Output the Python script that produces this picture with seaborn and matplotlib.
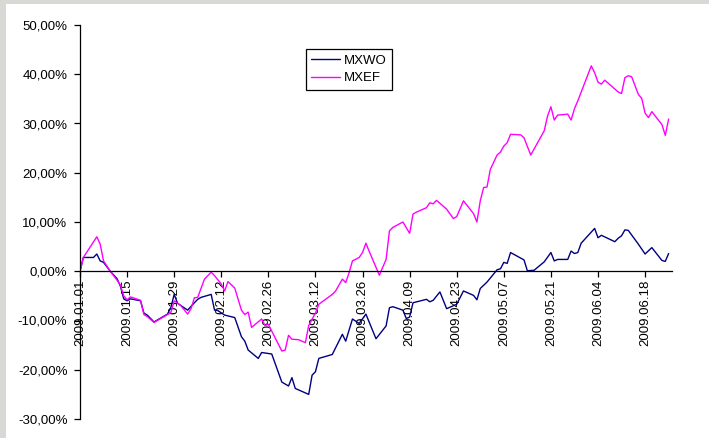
import matplotlib
matplotlib.use("Agg")
import matplotlib.pyplot as plt
from matplotlib.lines import Line2D
from matplotlib.patches import Rectangle
from matplotlib.ticker import FuncFormatter, FixedLocator, FixedFormatter
import matplotlib.dates as mdates
import pandas as pd
import seaborn as sns

# Cumulative returns since 2009-01-01, in percent
series_names = ["MXWO", "MXEF"]
series_colors = ["#000080", "#FF00FF"]

mxwo_dates = [
    "2009-01-01", "2009-01-02", "2009-01-05", "2009-01-06", "2009-01-07", "2009-01-08",
    "2009-01-10", "2009-01-12", "2009-01-13", "2009-01-14", "2009-01-15", "2009-01-16",
    "2009-01-19", "2009-01-20", "2009-01-21", "2009-01-23", "2009-01-27", "2009-01-28",
    "2009-01-29", "2009-01-30", "2009-02-02", "2009-02-04", "2009-02-05", "2009-02-06",
    "2009-02-09", "2009-02-10", "2009-02-11", "2009-02-13", "2009-02-16", "2009-02-18",
    "2009-02-19", "2009-02-20", "2009-02-23", "2009-02-24", "2009-02-27", "2009-03-02",
    "2009-03-04", "2009-03-05", "2009-03-06", "2009-03-10", "2009-03-11", "2009-03-12",
    "2009-03-13", "2009-03-17", "2009-03-20", "2009-03-21", "2009-03-23", "2009-03-25",
    "2009-03-27", "2009-03-30", "2009-04-02", "2009-04-03", "2009-04-04", "2009-04-07",
    "2009-04-08", "2009-04-09", "2009-04-10", "2009-04-14", "2009-04-15", "2009-04-16",
    "2009-04-18", "2009-04-20", "2009-04-23", "2009-04-25", "2009-04-28", "2009-04-29",
    "2009-04-30", "2009-05-02", "2009-05-05", "2009-05-06", "2009-05-07", "2009-05-08",
    "2009-05-09", "2009-05-13", "2009-05-14", "2009-05-16", "2009-05-19", "2009-05-21",
    "2009-05-22", "2009-05-23", "2009-05-26", "2009-05-27", "2009-05-28", "2009-05-29",
    "2009-05-30", "2009-06-03", "2009-06-04", "2009-06-05", "2009-06-09", "2009-06-10",
    "2009-06-11", "2009-06-12", "2009-06-13", "2009-06-16", "2009-06-18", "2009-06-20",
    "2009-06-23", "2009-06-24", "2009-06-25",
]
mxwo_values = [
    0.0, 2.8, 2.8, 3.5, 2.1, 1.8,
    0.0, -1.5, -3.0, -5.6, -6.0, -5.6,
    -6.0, -8.5, -8.9, -10.3, -8.7, -7.4,
    -4.7, -6.5, -7.9, -6.4, -5.7, -5.3,
    -4.7, -7.9, -8.0, -8.9, -9.4, -13.3,
    -14.2, -16.0, -17.7, -16.5, -16.8, -22.5,
    -23.3, -21.6, -23.8, -25.0, -21.1, -20.4,
    -17.7, -16.9, -12.8, -14.2, -9.7, -10.6,
    -8.7, -13.7, -11.1, -7.4, -7.2, -7.9,
    -9.6, -9.3, -6.4, -5.7, -6.2, -5.9,
    -4.2, -7.6, -6.7, -4.0, -4.9, -5.8,
    -3.5, -2.2, 0.3, 0.5, 1.8, 1.6,
    3.8, 2.3, 0.1, 0.2, 1.9, 3.8,
    2.1, 2.4, 2.4, 4.1, 3.6, 3.8,
    5.7, 8.7, 6.8, 7.3, 6.0, 6.7,
    7.2, 8.4, 8.3, 5.5, 3.5, 4.8,
    2.2, 2.0, 3.6,
]

mxef_dates = [
    "2009-01-01", "2009-01-02", "2009-01-06", "2009-01-07", "2009-01-08", "2009-01-10",
    "2009-01-12", "2009-01-13", "2009-01-14", "2009-01-15", "2009-01-16", "2009-01-19",
    "2009-01-20", "2009-01-21", "2009-01-23", "2009-01-28", "2009-01-29", "2009-01-31",
    "2009-02-02", "2009-02-03", "2009-02-04", "2009-02-05", "2009-02-07", "2009-02-08",
    "2009-02-09", "2009-02-10", "2009-02-12", "2009-02-13", "2009-02-14", "2009-02-16",
    "2009-02-18", "2009-02-19", "2009-02-20", "2009-02-21", "2009-02-24", "2009-02-25",
    "2009-02-26", "2009-03-02", "2009-03-03", "2009-03-04", "2009-03-05", "2009-03-07",
    "2009-03-09", "2009-03-10", "2009-03-12", "2009-03-13", "2009-03-17", "2009-03-18",
    "2009-03-20", "2009-03-21", "2009-03-22", "2009-03-23", "2009-03-25", "2009-03-26",
    "2009-03-27", "2009-03-28", "2009-03-31", "2009-04-02", "2009-04-03", "2009-04-04",
    "2009-04-07", "2009-04-09", "2009-04-10", "2009-04-11", "2009-04-14", "2009-04-15",
    "2009-04-16", "2009-04-17", "2009-04-20", "2009-04-22", "2009-04-23", "2009-04-25",
    "2009-04-28", "2009-04-29", "2009-04-30", "2009-05-01", "2009-05-02", "2009-05-03",
    "2009-05-05", "2009-05-06", "2009-05-07", "2009-05-08", "2009-05-09", "2009-05-12",
    "2009-05-13", "2009-05-15", "2009-05-19", "2009-05-20", "2009-05-21", "2009-05-22",
    "2009-05-23", "2009-05-26", "2009-05-27", "2009-05-28", "2009-05-29", "2009-06-02",
    "2009-06-03", "2009-06-04", "2009-06-05", "2009-06-06", "2009-06-10", "2009-06-11",
    "2009-06-12", "2009-06-13", "2009-06-14", "2009-06-16", "2009-06-17", "2009-06-18",
    "2009-06-19", "2009-06-20", "2009-06-23", "2009-06-24", "2009-06-25",
]
mxef_values = [
    0.0, 2.8, 7.0, 5.5, 2.1, 0.0,
    -1.8, -2.8, -5.0, -5.8, -5.2, -5.9,
    -8.8, -9.2, -10.4, -8.4, -6.0, -7.0,
    -8.7, -7.6, -5.4, -5.3, -1.6, -0.9,
    -0.2, -0.9, -2.6, -4.0, -2.1, -3.4,
    -7.9, -8.8, -8.3, -11.4, -9.7, -11.0,
    -10.8, -16.2, -16.0, -13.0, -13.8, -13.9,
    -14.5, -11.0, -8.5, -6.7, -4.7, -4.0,
    -1.6, -2.3, -0.3, 2.1, 2.8, 3.8,
    5.7, 4.0, -0.8, 2.4, 8.2, 8.9,
    10.0, 7.7, 11.6, 12.0, 12.9, 13.9,
    13.7, 14.4, 12.6, 10.7, 11.1, 14.3,
    11.7, 10.0, 14.3, 17.0, 17.1, 20.7,
    23.6, 24.2, 25.4, 26.1, 27.8, 27.7,
    27.1, 23.6, 28.5, 31.5, 33.4, 30.7,
    31.7, 31.9, 30.7, 33.0, 34.6, 41.7,
    40.3, 38.4, 38.0, 38.8, 36.4, 36.1,
    39.3, 39.7, 39.5, 35.9, 35.1, 32.1,
    31.2, 32.4, 29.8, 27.6, 30.9,
]

x_tick_labels = [
    "2009.01.01", "2009.01.15", "2009.01.29", "2009.02.12", "2009.02.26",
    "2009.03.12", "2009.03.26", "2009.04.09", "2009.04.23", "2009.05.07",
    "2009.05.21", "2009.06.04", "2009.06.18",
]
y_ticks = [-30, -20, -10, 0, 10, 20, 30, 40, 50]

# Long-form table for seaborn
frames = []
for name, dates, values in [("MXWO", mxwo_dates, mxwo_values), ("MXEF", mxef_dates, mxef_values)]:
    frames.append(pd.DataFrame({"date": pd.to_datetime(dates), "value": values, "series": name}))
df = pd.concat(frames, ignore_index=True)

sns.set_theme(style="white")
plt.rcParams["font.family"] = ["Liberation Sans", "DejaVu Sans"]

W, H = 709, 438
fig = plt.figure(figsize=(W / 100, H / 100), dpi=100)
fig.patch.set_facecolor("white")

# light grey frame on the left and top edges
frame_color = "#d8d8d4"
fig.patches.append(Rectangle((0, 0), 6 / W, 1, transform=fig.transFigure,
                             facecolor=frame_color, edgecolor="none", zorder=0))
fig.patches.append(Rectangle((0, 1 - 4 / H), 1, 4 / H, transform=fig.transFigure,
                             facecolor=frame_color, edgecolor="none", zorder=0))

ax = fig.add_axes([80 / W, 1 - 419 / H, 592 / W, 394 / H])
ax.set_facecolor("white")

palette = dict(zip(series_names, series_colors))
sns.lineplot(data=df, x="date", y="value", hue="series", hue_order=series_names,
             palette=palette, estimator=None, sort=False, linewidth=1.0,
             legend=False, ax=ax)

ax.set_xlim(pd.Timestamp("2009-01-01"), pd.Timestamp("2009-06-26"))
ax.set_ylim(-30, 50)

ax.set_yticks(y_ticks)
ax.yaxis.set_major_formatter(FuncFormatter(lambda v, _: f"{v:.2f}%".replace(".", ",")))
tick_pos = mdates.date2num(pd.to_datetime(x_tick_labels, format="%Y.%m.%d").to_pydatetime())
ax.xaxis.set_major_locator(FixedLocator(tick_pos))
ax.xaxis.set_major_formatter(FixedFormatter(x_tick_labels))

ax.set_xlabel("")
ax.set_ylabel("")
ax.grid(False)

for side in ("top", "right"):
    ax.spines[side].set_visible(False)
ax.spines["bottom"].set_position(("data", 0))
for side in ("left", "bottom"):
    ax.spines[side].set_color("black")
    ax.spines[side].set_linewidth(0.9)

ax.tick_params(axis="both", which="major", bottom=True, left=True, direction="out",
               length=4, width=0.9, color="black", labelsize=9.5, labelcolor="black")
ax.tick_params(axis="y", pad=5)
ax.tick_params(axis="x", pad=2, labelrotation=90)

handles = [Line2D([], [], color=c, linewidth=1.0) for c in series_colors]
leg = fig.legend(handles, series_names, loc="upper left",
                 bbox_to_anchor=(305.7 / W, 1 - 49.3 / H), bbox_transform=fig.transFigure,
                 frameon=True, fancybox=False, edgecolor="black", framealpha=1,
                 fontsize=9.5, handlelength=2.2, handletextpad=0.3,
                 labelspacing=0.4, borderpad=0.4, borderaxespad=0)
leg.get_frame().set_linewidth(0.9)
for t in leg.get_texts():
    t.set_color("black")

fig.savefig("out.png", dpi=100)
